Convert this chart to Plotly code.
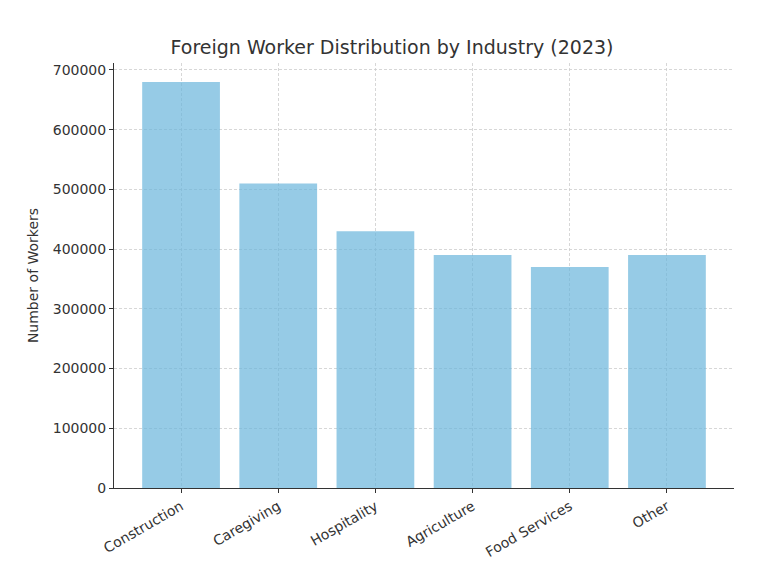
import plotly.graph_objects as go

industries = ["Construction", "Caregiving", "Hospitality", "Agriculture", "Food Services", "Other"]
workers = [680000, 510000, 430000, 390000, 370000, 390000]
y_ticks = [0, 100000, 200000, 300000, 400000, 500000, 600000, 700000]

fig = go.Figure(go.Bar(x=industries, y=workers, width=0.8,
                       marker=dict(color="rgba(105,181,219,0.7)", line=dict(width=0))))
fig.update_layout(
    width=768, height=562, plot_bgcolor="white", paper_bgcolor="white",
    margin=dict(l=106, r=42, t=55, b=82, autoexpand=False),
    title=dict(text="Foreign Worker Distribution by Industry (2023)", x=0.5, xanchor="center",
               y=0.93, yanchor="middle", font=dict(family="DejaVu Sans", size=19, color="#333333")),
    font=dict(family="DejaVu Sans", size=14, color="#333333"),
    showlegend=False,
)
fig.update_xaxes(range=[-0.69, 5.69], tickangle=-30, showline=True, linecolor="#333333", linewidth=1,
                 ticks="outside", ticklen=4, tickcolor="#333333", showgrid=True, automargin=False,
                 gridcolor="rgba(205,205,205,0.8)", griddash="3px,2px", gridwidth=0.8, tickfont=dict(size=14))
fig.update_yaxes(range=[0, 711700], tickvals=y_ticks, ticktext=[str(v) for v in y_ticks],
                 showline=True, linecolor="#333333", linewidth=1, ticks="outside", ticklen=4,
                 tickcolor="#333333", showgrid=True, gridcolor="rgba(205,205,205,0.8)", griddash="3px,2px",
                 gridwidth=0.8, zeroline=False, automargin=False,
                 title=dict(text="Number of Workers", font=dict(size=14), standoff=10),
                 tickfont=dict(size=14))
fig.write_html("out.html")
